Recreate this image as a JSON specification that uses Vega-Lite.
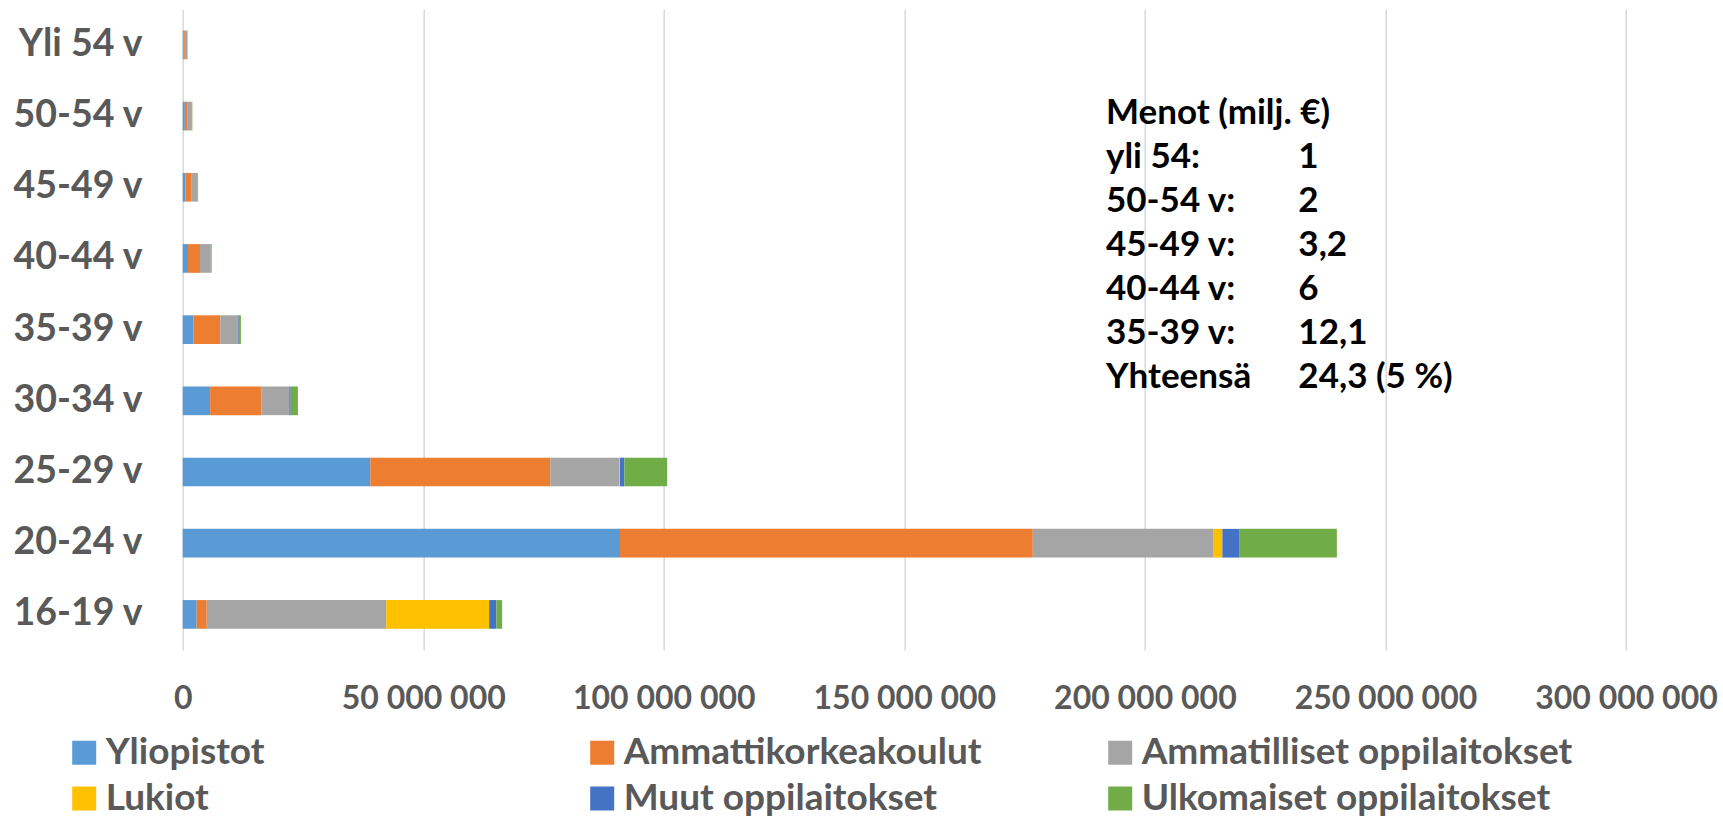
{
  "$schema": "https://vega.github.io/schema/vega-lite/v6.json",
  "width": 1443.3,
  "height": 640.7,
  "autosize": {"type": "none"},
  "padding": {"left": 182.7, "top": 9.3, "right": 97, "bottom": 167},
  "background": "white",
  "config": {
    "view": {"stroke": null},
    "font": "Lato",
    "locale": {"number": {"decimal": ",", "thousands": " ", "grouping": [3], "currency": ["", " €"]}}
  },
  "datasets": {
    "menot": [
      {"ika": "16-19 v", "oppilaitos": "Yliopistot", "menot": 2900000},
      {"ika": "16-19 v", "oppilaitos": "Ammattikorkeakoulut", "menot": 2100000},
      {"ika": "16-19 v", "oppilaitos": "Ammatilliset oppilaitokset", "menot": 37300000},
      {"ika": "16-19 v", "oppilaitos": "Lukiot", "menot": 21400000},
      {"ika": "16-19 v", "oppilaitos": "Muut oppilaitokset", "menot": 1500000},
      {"ika": "16-19 v", "oppilaitos": "Ulkomaiset oppilaitokset", "menot": 1200000},
      {"ika": "20-24 v", "oppilaitos": "Yliopistot", "menot": 90900000},
      {"ika": "20-24 v", "oppilaitos": "Ammattikorkeakoulut", "menot": 85800000},
      {"ika": "20-24 v", "oppilaitos": "Ammatilliset oppilaitokset", "menot": 37600000},
      {"ika": "20-24 v", "oppilaitos": "Lukiot", "menot": 1800000},
      {"ika": "20-24 v", "oppilaitos": "Muut oppilaitokset", "menot": 3600000},
      {"ika": "20-24 v", "oppilaitos": "Ulkomaiset oppilaitokset", "menot": 20200000},
      {"ika": "25-29 v", "oppilaitos": "Yliopistot", "menot": 39000000},
      {"ika": "25-29 v", "oppilaitos": "Ammattikorkeakoulut", "menot": 37400000},
      {"ika": "25-29 v", "oppilaitos": "Ammatilliset oppilaitokset", "menot": 14400000},
      {"ika": "25-29 v", "oppilaitos": "Lukiot", "menot": 100000},
      {"ika": "25-29 v", "oppilaitos": "Muut oppilaitokset", "menot": 900000},
      {"ika": "25-29 v", "oppilaitos": "Ulkomaiset oppilaitokset", "menot": 8900000},
      {"ika": "30-34 v", "oppilaitos": "Yliopistot", "menot": 5700000},
      {"ika": "30-34 v", "oppilaitos": "Ammattikorkeakoulut", "menot": 10700000},
      {"ika": "30-34 v", "oppilaitos": "Ammatilliset oppilaitokset", "menot": 5700000},
      {"ika": "30-34 v", "oppilaitos": "Lukiot", "menot": 50000},
      {"ika": "30-34 v", "oppilaitos": "Muut oppilaitokset", "menot": 300000},
      {"ika": "30-34 v", "oppilaitos": "Ulkomaiset oppilaitokset", "menot": 1500000},
      {"ika": "35-39 v", "oppilaitos": "Yliopistot", "menot": 2250000},
      {"ika": "35-39 v", "oppilaitos": "Ammattikorkeakoulut", "menot": 5550000},
      {"ika": "35-39 v", "oppilaitos": "Ammatilliset oppilaitokset", "menot": 3550000},
      {"ika": "35-39 v", "oppilaitos": "Lukiot", "menot": 50000},
      {"ika": "35-39 v", "oppilaitos": "Muut oppilaitokset", "menot": 250000},
      {"ika": "35-39 v", "oppilaitos": "Ulkomaiset oppilaitokset", "menot": 450000},
      {"ika": "40-44 v", "oppilaitos": "Yliopistot", "menot": 1100000},
      {"ika": "40-44 v", "oppilaitos": "Ammattikorkeakoulut", "menot": 2500000},
      {"ika": "40-44 v", "oppilaitos": "Ammatilliset oppilaitokset", "menot": 2150000},
      {"ika": "40-44 v", "oppilaitos": "Lukiot", "menot": 20000},
      {"ika": "40-44 v", "oppilaitos": "Muut oppilaitokset", "menot": 50000},
      {"ika": "40-44 v", "oppilaitos": "Ulkomaiset oppilaitokset", "menot": 200000},
      {"ika": "45-49 v", "oppilaitos": "Yliopistot", "menot": 550000},
      {"ika": "45-49 v", "oppilaitos": "Ammattikorkeakoulut", "menot": 1200000},
      {"ika": "45-49 v", "oppilaitos": "Ammatilliset oppilaitokset", "menot": 1350000},
      {"ika": "45-49 v", "oppilaitos": "Lukiot", "menot": 0},
      {"ika": "45-49 v", "oppilaitos": "Muut oppilaitokset", "menot": 30000},
      {"ika": "45-49 v", "oppilaitos": "Ulkomaiset oppilaitokset", "menot": 70000},
      {"ika": "50-54 v", "oppilaitos": "Yliopistot", "menot": 450000},
      {"ika": "50-54 v", "oppilaitos": "Ammattikorkeakoulut", "menot": 600000},
      {"ika": "50-54 v", "oppilaitos": "Ammatilliset oppilaitokset", "menot": 850000},
      {"ika": "50-54 v", "oppilaitos": "Lukiot", "menot": 0},
      {"ika": "50-54 v", "oppilaitos": "Muut oppilaitokset", "menot": 20000},
      {"ika": "50-54 v", "oppilaitos": "Ulkomaiset oppilaitokset", "menot": 80000},
      {"ika": "Yli 54 v", "oppilaitos": "Yliopistot", "menot": 200000},
      {"ika": "Yli 54 v", "oppilaitos": "Ammattikorkeakoulut", "menot": 250000},
      {"ika": "Yli 54 v", "oppilaitos": "Ammatilliset oppilaitokset", "menot": 450000},
      {"ika": "Yli 54 v", "oppilaitos": "Lukiot", "menot": 0},
      {"ika": "Yli 54 v", "oppilaitos": "Muut oppilaitokset", "menot": 20000},
      {"ika": "Yli 54 v", "oppilaitos": "Ulkomaiset oppilaitokset", "menot": 80000}
    ],
    "sarjat": [
      {"oppilaitos": "Yliopistot", "jarj": 1},
      {"oppilaitos": "Ammattikorkeakoulut", "jarj": 2},
      {"oppilaitos": "Ammatilliset oppilaitokset", "jarj": 3},
      {"oppilaitos": "Lukiot", "jarj": 4},
      {"oppilaitos": "Muut oppilaitokset", "jarj": 5},
      {"oppilaitos": "Ulkomaiset oppilaitokset", "jarj": 6}
    ],
    "teksti": [
      {"rivi": 0, "selite": "Menot (milj. €)", "arvo": ""},
      {"rivi": 1, "selite": "yli 54:", "arvo": "1"},
      {"rivi": 2, "selite": "50-54 v:", "arvo": "2"},
      {"rivi": 3, "selite": "45-49 v:", "arvo": "3,2"},
      {"rivi": 4, "selite": "40-44 v:", "arvo": "6"},
      {"rivi": 5, "selite": "35-39 v:", "arvo": "12,1"},
      {"rivi": 6, "selite": "Yhteensä", "arvo": "24,3 (5 %)"}
    ]
  },
  "layer": [
    {
      "data": {"name": "menot"},
      "transform": [
        {"lookup": "oppilaitos", "from": {"data": {"name": "sarjat"}, "key": "oppilaitos", "fields": ["jarj"]}}
      ],
      "mark": {"type": "bar"},
      "encoding": {
        "y": {
          "field": "ika",
          "type": "nominal",
          "sort": ["Yli 54 v", "50-54 v", "45-49 v", "40-44 v", "35-39 v", "30-34 v", "25-29 v", "20-24 v", "16-19 v"],
          "scale": {"paddingInner": 0.597, "paddingOuter": 0.2985},
          "axis": {
            "title": null,
            "domain": false,
            "ticks": false,
            "labelPadding": 40.7,
            "labelFont": "Lato",
            "labelFontSize": 37.5,
            "labelFontWeight": "bold",
            "labelColor": "#595959"
          }
        },
        "x": {
          "field": "menot",
          "type": "quantitative",
          "stack": "zero",
          "scale": {"domain": [0, 300000000], "nice": false},
          "axis": {
            "title": null,
            "values": [0, 50000000, 100000000, 150000000, 200000000, 250000000, 300000000],
            "format": ",d",
            "grid": true,
            "gridColor": "#d9d9d9",
            "gridWidth": 1.5,
            "domain": false,
            "ticks": false,
            "labelPadding": 33,
            "labelFlush": false,
            "labelOverlap": false,
            "labelLimit": 0,
            "labelFont": "Lato",
            "labelFontSize": 32,
            "labelFontWeight": "bold",
            "labelColor": "#595959"
          }
        },
        "order": {"field": "jarj", "type": "quantitative", "sort": "ascending"},
        "color": {
          "field": "oppilaitos",
          "type": "nominal",
          "sort": ["Yliopistot", "Ammattikorkeakoulut", "Ammatilliset oppilaitokset", "Lukiot", "Muut oppilaitokset", "Ulkomaiset oppilaitokset"],
          "scale": {
            "domain": ["Yliopistot", "Ammattikorkeakoulut", "Ammatilliset oppilaitokset", "Lukiot", "Muut oppilaitokset", "Ulkomaiset oppilaitokset"],
            "range": ["#5B9BD5", "#ED7D31", "#A5A5A5", "#FFC000", "#4472C4", "#70AD47"]
          },
          "legend": {
            "title": null,
            "orient": "none",
            "legendX": -117,
            "legendY": 724.7,
            "direction": "horizontal",
            "columns": 3,
            "gridAlign": "all",
            "columnPadding": 47,
            "rowPadding": 8,
            "padding": 0,
            "symbolType": "square",
            "symbolSize": 576,
            "symbolStrokeWidth": 0,
            "labelOffset": 3,
            "labelLimit": 0,
            "labelFont": "Lato",
            "labelFontSize": 37,
            "labelFontWeight": "bold",
            "labelColor": "#595959"
          }
        }
      }
    },
    {
      "data": {"name": "teksti"},
      "mark": {"type": "text", "align": "left", "baseline": "alphabetic", "font": "Lato", "fontSize": 35, "fontWeight": "bold", "color": "#000000"},
      "encoding": {
        "x": {"datum": 191900000},
        "y": {"field": "rivi", "type": "quantitative", "scale": {"domain": [-2.59, 11.938], "reverse": true, "nice": false, "zero": false}, "axis": null},
        "text": {"field": "selite"}
      }
    },
    {
      "data": {"name": "teksti"},
      "mark": {"type": "text", "align": "left", "baseline": "alphabetic", "font": "Lato", "fontSize": 35, "fontWeight": "bold", "color": "#000000"},
      "encoding": {
        "x": {"datum": 231900000},
        "y": {"field": "rivi", "type": "quantitative", "scale": {"domain": [-2.59, 11.938], "reverse": true, "nice": false, "zero": false}, "axis": null},
        "text": {"field": "arvo"}
      }
    }
  ],
  "resolve": {"scale": {"y": "independent"}}
}
